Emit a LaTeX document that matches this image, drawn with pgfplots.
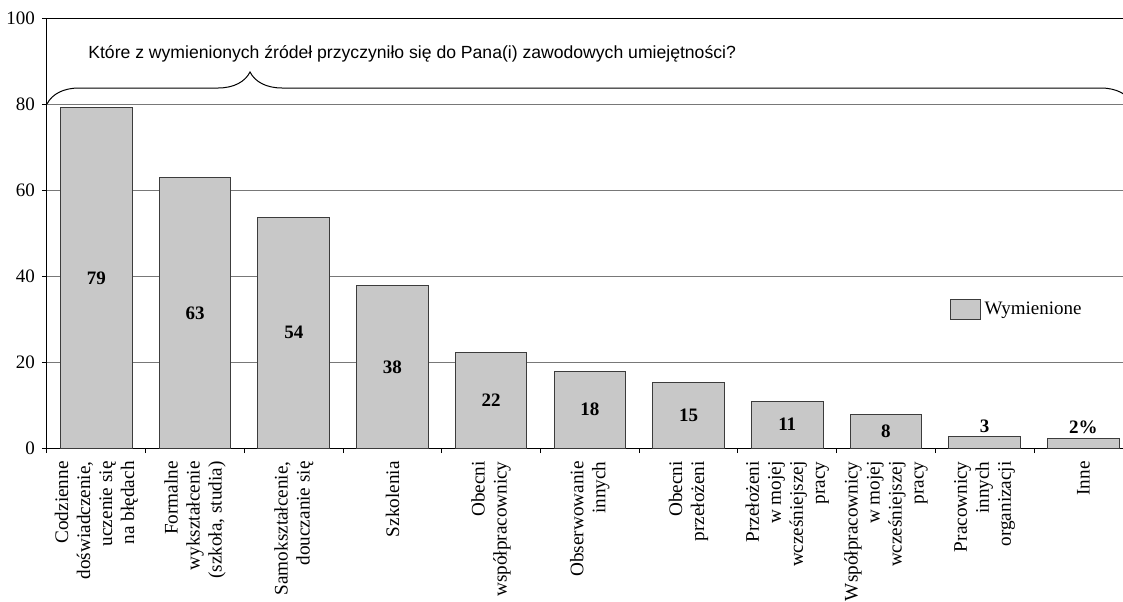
\documentclass[border=0pt]{standalone}
\usepackage{fontspec}
\setmainfont{Liberation Serif}
\newfontfamily\titlefont{Liberation Sans}
\usepackage{pgfplots}
\usepackage{pgfplotstable}
\pgfplotsset{compat=1.18}
\usetikzlibrary{decorations.pathreplacing}
\definecolor{barfill}{RGB}{200,200,200}
\definecolor{baredge}{RGB}{60,60,60}
\definecolor{gridgray}{RGB}{120,120,120}

% share of respondents naming each source
\pgfplotstableread{
x val
0 79.1
1 62.8
2 53.7
3 37.7
4 22.1
5 17.9
6 15.2
7 10.9
8 7.7
9 2.6
10 2.2
}\sources

\begin{document}
\begin{tikzpicture}
\begin{axis}[
    at={(0,0)}, anchor=south west,
    scale only axis, width=542.85pt, height=215pt,
    xmin=-0.5, xmax=10.5, ymin=0, ymax=100,
    ytick={0,20,...,100},
    ymajorgrids,
    major grid style={gridgray, line width=0.5pt},
    axis line style={line width=0.5pt},
    xtick={0,...,10},
    xticklabels={
        {Codzienne\\doświadczenie,\\uczenie się\\na błędach},
        {Formalne\\wykształcenie\\(szkoła, studia)},
        {Samokształcenie,\\douczanie się},
        {Szkolenia},
        {Obecni\\współpracownicy},
        {Obserwowanie\\innych},
        {Obecni\\przełożeni},
        {Przełożeni\\w mojej\\wcześniejszej\\pracy},
        {Współpracownicy\\w mojej\\wcześniejszej\\pracy},
        {Pracownicy\\innych\\organizacji},
        {Inne}},
    xtick pos=bottom, ytick pos=left,
    major x tick style={draw=none},
    minor xtick={-0.5,0.5,...,10.5},
    minor x tick style={draw=black, line width=0.5pt},
    y tick style={draw=black, line width=0.5pt},
    tick align=outside,
    major tick length=2.5pt, minor tick length=2.5pt,
    xticklabel style={rotate=90, anchor=east, align=right,
        font=\fontsize{9.6}{11}\selectfont, inner sep=1pt, xshift=-3pt},
    yticklabel style={font=\fontsize{9.5}{11}\selectfont},
    /pgf/number format/assume math mode=true,
    legend style={at={(0.831,0.321)}, anchor=west, draw=none, fill=none,
        font=\fontsize{9.5}{11}\selectfont, inner sep=0pt},
    legend image code/.code={\draw[#1] (0pt,-5pt) rectangle (15pt,5pt);},
]
\addplot[ybar, bar width=0.725, fill=barfill, draw=baredge, line width=0.5pt]
    table[x=x, y=val] {\sources};
\addlegendentry{Wymienione}

% value labels in the middle of the tall bars
\addplot[draw=none, mark=none, forget plot, point meta=explicit symbolic,
    nodes near coords, nodes near coords align={center},
    every node near coord/.append style={anchor=center,
        font=\bfseries\fontsize{9.5}{11}\selectfont}]
    coordinates {(0,39.55)[79] (1,31.4)[63] (2,26.85)[54] (3,18.85)[38]
        (4,11.05)[22] (5,8.95)[18] (6,7.6)[15] (7,5.45)[11] (8,3.85)[8]};

% value labels above the short bars
\addplot[draw=none, mark=none, forget plot, point meta=explicit symbolic,
    nodes near coords,
    every node near coord/.append style={anchor=south, inner sep=2pt,
        font=\bfseries\fontsize{9.5}{11}\selectfont}]
    coordinates {(9,2.6)[3] (10,2.2)[2\%]};

\draw[decorate, decoration={brace, amplitude=16pt, aspect=0.187},
    line width=0.5pt] (axis cs:-0.5,80) -- (axis cs:10.5,80);
\node[anchor=base west, inner sep=0pt,
    font=\titlefont\fontsize{8.8}{11}\selectfont]
    at (axis cs:-0.085,90.5)
    {Które z wymienionych źródeł przyczyniło się do Pana(i) zawodowych umiejętności?};
\end{axis}
\pgfresetboundingbox
\useasboundingbox (-23.5pt,-76.5pt) rectangle (538pt,224pt);
\end{tikzpicture}
\end{document}
